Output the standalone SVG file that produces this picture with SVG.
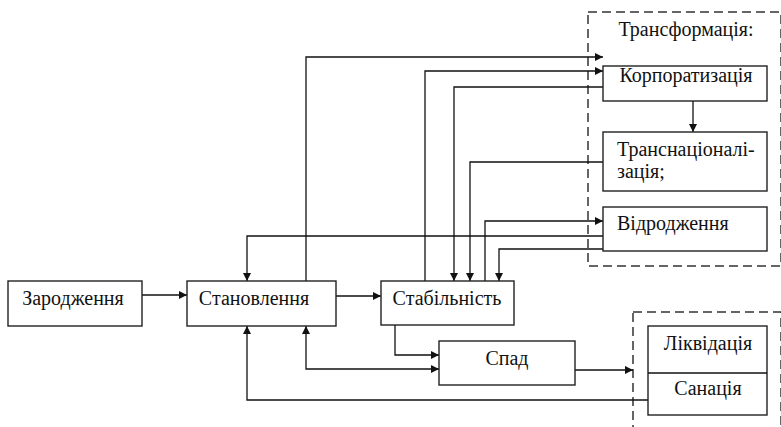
<svg xmlns="http://www.w3.org/2000/svg" width="781" height="427" viewBox="0 0 781 427">
<defs>
<marker id="arr" viewBox="0 0 10 10" refX="10" refY="5" markerWidth="9" markerHeight="8" markerUnits="userSpaceOnUse" orient="auto-start-reverse">
<path d="M0,0 L10,5 L0,10 Z" fill="#111"/>
</marker>
</defs>
<style>
.box{fill:#fff;stroke:#222;stroke-width:1.4}
.dash{fill:none;stroke:#333;stroke-width:1.5;stroke-dasharray:9,5}
.t{font-family:"Liberation Serif","Times New Roman",serif;font-size:20px;fill:#111}
.c{text-anchor:middle}
.ln{fill:none;stroke:#111;stroke-width:1.3}
</style>
<rect width="781" height="427" fill="#fff"/>
<g id="transformation-group">
<rect class="dash" x="588" y="12" width="193" height="254"/>
<text class="t c" x="686" y="36">Трансформація:</text>
</g>
<g id="liquidation-group">
<rect class="dash" x="633" y="312" width="148" height="130"/>
</g>
<g id="connectors">
<path class="ln" d="M142,295 H187" marker-end="url(#arr)"/>
<path class="ln" d="M336,296 H381" marker-end="url(#arr)"/>
<path class="ln" d="M306,281 V57 H603" marker-end="url(#arr)"/>
<path class="ln" d="M425,281 V71 H603" marker-end="url(#arr)"/>
<path class="ln" d="M603,87 H454 V281" marker-end="url(#arr)"/>
<path class="ln" d="M693,101 V132" marker-end="url(#arr)"/>
<path class="ln" d="M603,162 H470 V281" marker-end="url(#arr)"/>
<path class="ln" d="M485,281 V221 H603" marker-end="url(#arr)"/>
<path class="ln" d="M603,236 H247 V281" marker-end="url(#arr)"/>
<path class="ln" d="M603,249 H499 V281" marker-end="url(#arr)"/>
<path class="ln" d="M395,325 V355 H439" marker-end="url(#arr)"/>
<path class="ln" d="M306,326 V369 H439" marker-start="url(#arr)" marker-end="url(#arr)"/>
<path class="ln" d="M575,370 H633" marker-end="url(#arr)"/>
<path class="ln" d="M648,400 H247 V326" marker-end="url(#arr)"/>
</g>
<g id="zarodzhennia">
<rect class="box" x="8" y="281" width="134" height="45"/>
<text class="t c" x="73" y="305">Зародження</text>
</g>
<g id="stanovlennia">
<rect class="box" x="187" y="281" width="149" height="45"/>
<text class="t c" x="254" y="305">Становлення</text>
</g>
<g id="stabilnist">
<rect class="box" x="381" y="281" width="133" height="44"/>
<text class="t c" x="447" y="305">Стабільність</text>
</g>
<g id="spad">
<rect class="box" x="439" y="341" width="136" height="44"/>
<text class="t c" x="507" y="365">Спад</text>
</g>
<g id="korporatyzatsiia">
<rect class="box" x="603" y="66" width="164" height="35"/>
<text class="t c" x="686" y="82">Корпоратизація</text>
</g>
<g id="transnatsionalizatsiia">
<rect class="box" x="603" y="132" width="164" height="59"/>
<text class="t" x="617" y="156">Транснаціоналі-</text>
<text class="t" x="617" y="178">зація;</text>
</g>
<g id="vidrodzhennia">
<rect class="box" x="603" y="207" width="164" height="44"/>
<text class="t" x="617" y="230">Відродження</text>
</g>
<g id="likvidatsiia-sanatsiia">
<rect class="box" x="648" y="326" width="119" height="89"/>
<line class="ln" x1="648" y1="373" x2="767" y2="373"/>
<text class="t c" x="708" y="350">Ліквідація</text>
<text class="t c" x="708" y="395">Санація</text>
</g>
</svg>
